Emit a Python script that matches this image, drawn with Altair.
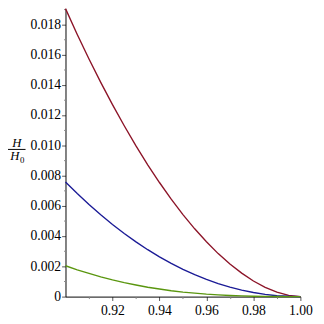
import altair as alt
import pandas as pd

x_vals = [0.900, 0.905, 0.910, 0.915, 0.920, 0.925, 0.930, 0.935, 0.940, 0.945,
          0.950, 0.955, 0.960, 0.965, 0.970, 0.975, 0.980, 0.985, 0.990, 0.995, 1.000]
red_vals = [0.01903, 0.01732, 0.01570, 0.01416, 0.01269, 0.01129, 0.00996, 0.00871,
            0.00754, 0.00644, 0.00542, 0.00448, 0.00362, 0.00284, 0.00215, 0.00155,
            0.00103, 0.00061, 0.00029, 0.00008, 0.0]
blue_vals = [0.00757, 0.00681, 0.00609, 0.00541, 0.00477, 0.00417, 0.00362, 0.00310,
             0.00263, 0.00220, 0.00180, 0.00145, 0.00114, 0.00086, 0.00063, 0.00043,
             0.00027, 0.00015, 0.00006, 0.00002, 0.0]
green_vals = [0.00204, 0.00177, 0.00153, 0.00130, 0.00110, 0.00092, 0.00077, 0.00062,
              0.00050, 0.00039, 0.00030, 0.00023, 0.00016, 0.00011, 0.00007, 0.000045,
              0.000024, 0.000011, 0.000004, 0.000001, 0.0]
series_names = ["red", "blue", "green"]
series_colors = ["#8c1428", "#1a1a96", "#5a960f"]

x_major = [0.92, 0.94, 0.96, 0.98, 1.00]
x_minor = [0.91, 0.93, 0.95, 0.97, 0.99]
y_major = [0, 0.002, 0.004, 0.006, 0.008, 0.010, 0.012, 0.014, 0.016, 0.018]
y_minor = [0.001, 0.003, 0.005, 0.007, 0.009, 0.011, 0.013, 0.015, 0.017, 0.019]

rows = []
for name, ys in zip(series_names, [red_vals, blue_vals, green_vals]):
    for xv, yv in zip(x_vals, ys):
        rows.append({"x": xv, "y": yv, "series": name})
df = pd.DataFrame(rows)

FONT = "Liberation Serif"
xscale = alt.Scale(domain=[0.9, 1.0], nice=False, zero=False)
yscale = alt.Scale(domain=[0, 0.019], nice=False)

lines = alt.Chart(df).mark_line(strokeWidth=1.4).encode(
    x=alt.X("x:Q", scale=xscale, axis=alt.Axis(
        values=x_major, format=".2f", title=None, grid=False, tickSize=4,
        labelPadding=3, labelFont=FONT, labelFontSize=14, labelColor="black",
        domainColor="black", tickColor="#555555", labelFlush=False)),
    y=alt.Y("y:Q", scale=yscale, axis=alt.Axis(
        values=y_major, title=None, grid=False, tickSize=4,
        labelExpr="datum.value == 0 ? '0' : format(datum.value, '.3f')",
        labelPadding=1, labelFont=FONT, labelFontSize=14, labelColor="black",
        domainColor="black", tickColor="#555555", labelFlush=False)),
    color=alt.Color("series:N", scale=alt.Scale(domain=series_names, range=series_colors), legend=None),
)

minor = alt.Chart(df).mark_point(opacity=0).encode(
    x=alt.X("x:Q", scale=xscale, axis=alt.Axis(
        values=x_minor, labels=False, domain=False, grid=False, tickSize=2,
        tickColor="#888888", title=None, orient="bottom")),
    y=alt.Y("y:Q", scale=yscale, axis=alt.Axis(
        values=y_minor, labels=False, domain=False, grid=False, tickSize=2,
        tickColor="#888888", title=None, orient="left")),
)

label_df = alt.Data(values=[{"k": 1}])
h_top = alt.Chart(label_df).mark_text(text="H", font=FONT, fontSize=13, fontStyle="italic",
                                      align="center", baseline="middle").encode(
    x=alt.value(-50), y=alt.value(137))
bar = alt.Chart(label_df).mark_rule(color="black", strokeWidth=1).encode(
    x=alt.value(-59), x2=alt.value(-41), y=alt.value(144))
h_bot = alt.Chart(label_df).mark_text(text="H", font=FONT, fontSize=13, fontStyle="italic",
                                      align="center", baseline="middle").encode(
    x=alt.value(-52), y=alt.value(151))
sub0 = alt.Chart(label_df).mark_text(text="0", font=FONT, fontSize=9,
                                     align="center", baseline="middle").encode(
    x=alt.value(-44.5), y=alt.value(155))

chart = alt.layer(lines, minor, h_top, bar, h_bot, sub0).resolve_axis(
    x="independent", y="independent"
).properties(
    width=241, height=295,
    autosize=alt.AutoSizeParams(type="none"),
    padding={"left": 59, "top": -3, "right": 16, "bottom": 24},
).configure_view(stroke=None)

chart.save("out.html", embed_options={"renderer": "svg", "actions": False})
